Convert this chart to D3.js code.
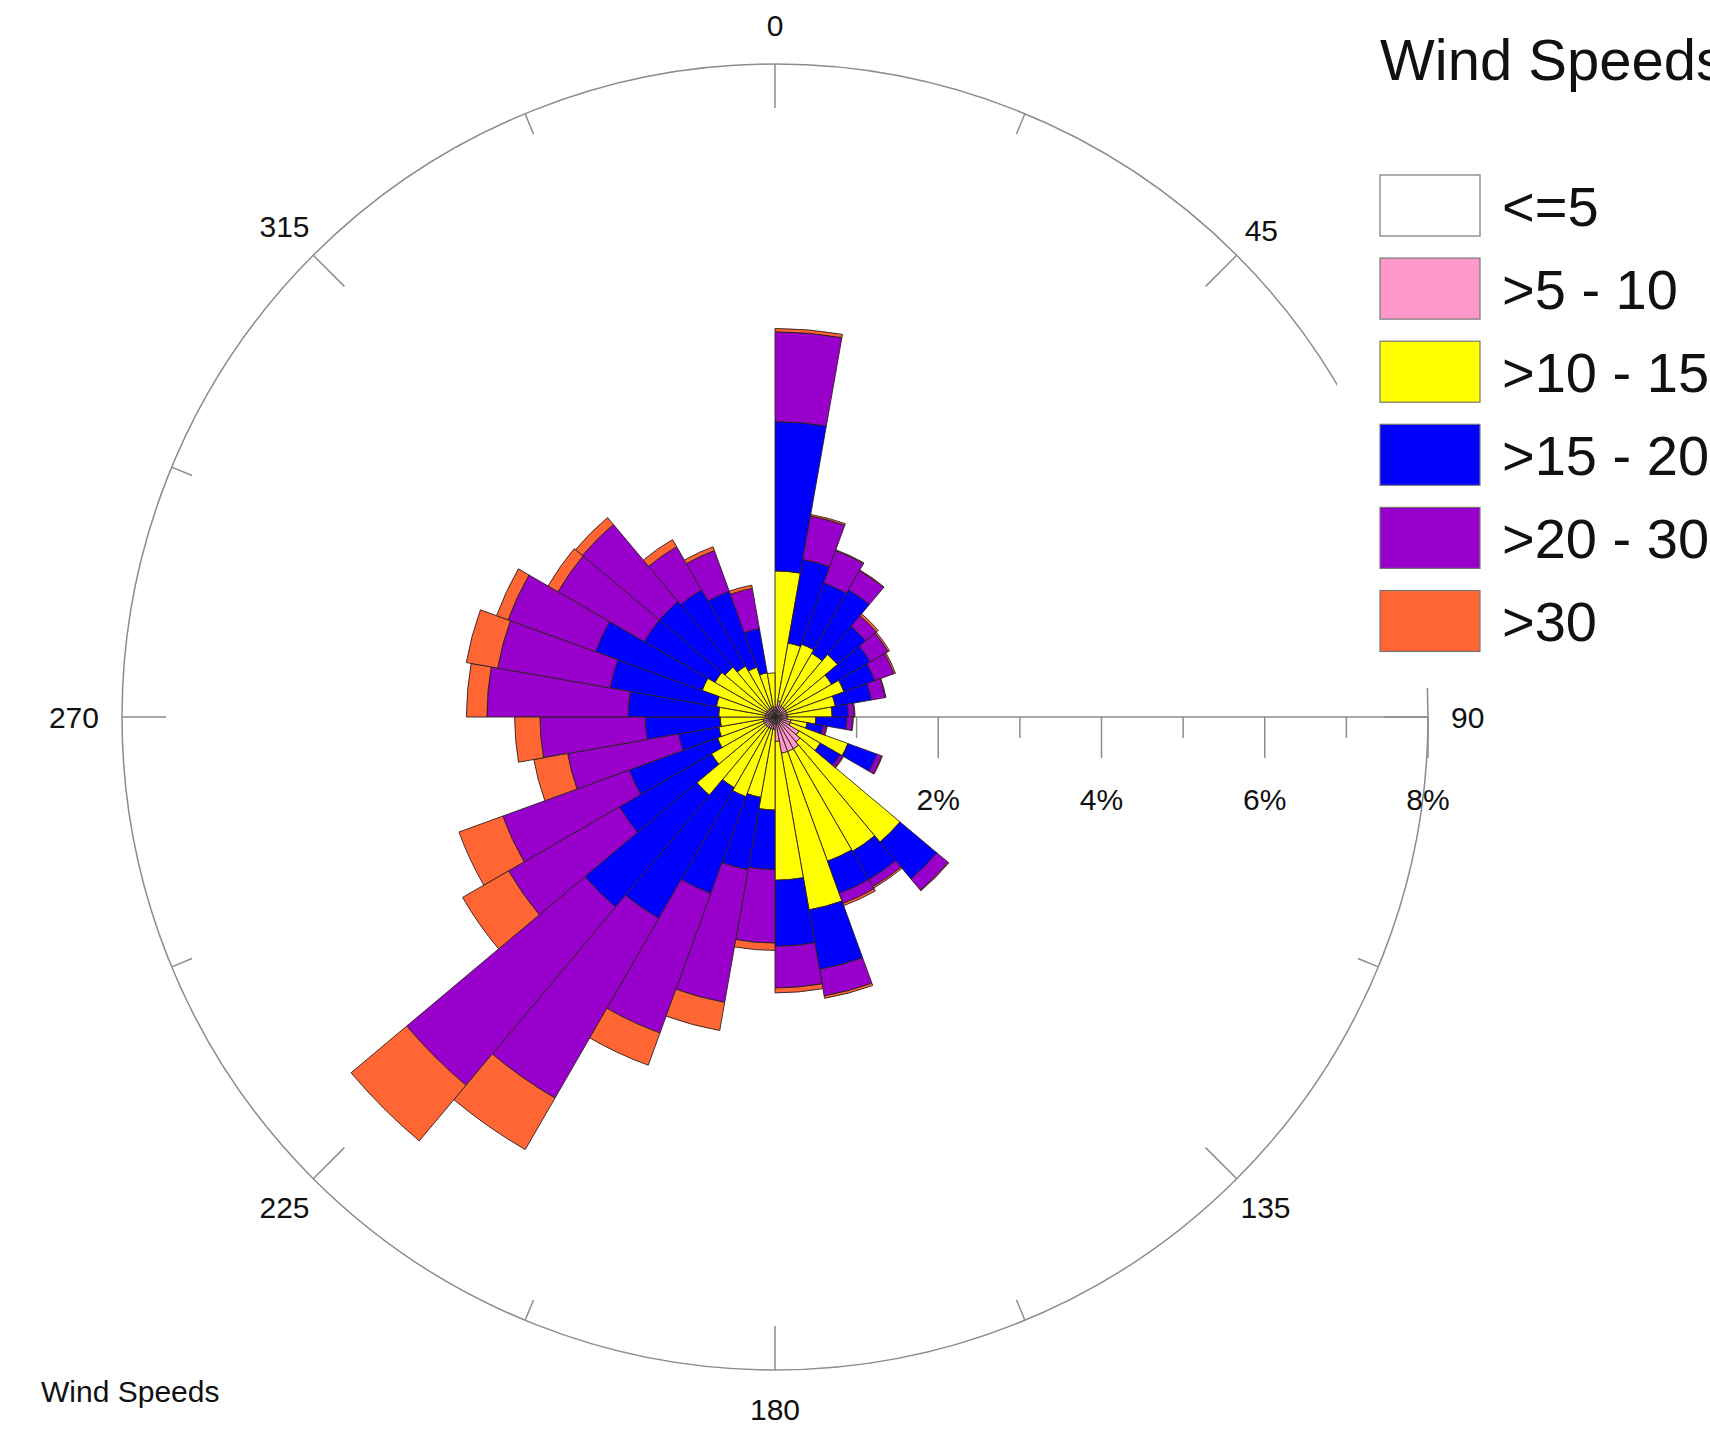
<!DOCTYPE html>
<html>
<head>
<meta charset="utf-8">
<script src="https://cdn.jsdelivr.net/npm/d3@7"></script>
<style>
  body { margin: 0; background: #fff; }
  text { font-family: "Liberation Sans", Arial, sans-serif; fill: #111; }
</style>
</head>
<body>
<div id="chart"></div>
<script>
// Wind direction bins (degrees, start of each 10 degree sector)
const directions = d3.range(0, 360, 10);

const speedBands = ["<=5", ">5 - 10", ">10 - 15", ">15 - 20", ">20 - 30", ">30"];
const bandColors = ["#ffffff", "#ff99cc", "#ffff00", "#0000ff", "#9900cc", "#ff6633"];

// percent of time in each band, one value per sector
const calm      = [0.08,0.08,0.08,0.08,0.08,0.08,0.08,0.08,0.08,0.08,0.08,0.08,0.08,0.08,0.08,0.08,0.08,0.08,
                   0.08,0.08,0.08,0.08,0.08,0.08,0.08,0.08,0.08,0.08,0.08,0.08,0.08,0.08,0.08,0.08,0.08,0.08];
const speed5_10 = [0.04,0.12,0.07,0.07,0.07,0.07,0.07,0.07,0.07,0.07,0.12,0.12,0.26,0.32,0.37,0.37,0.37,0.22,
                   0.07,0.07,0.07,0.07,0.07,0.07,0.07,0.07,0.04,0.04,0.04,0.04,0.04,0.04,0.04,0.04,0.04,0.04];
const speed10_15 = [1.67,0.72,0.80,0.75,0.85,0.65,0.75,0.60,0.55,0.35,0.20,0.75,0.30,1.60,1.45,1.43,1.95,1.70,
                    0.99,0.85,0.89,0.85,1.10,0.75,0.60,0.55,0.55,0.57,0.61,0.83,0.73,0.68,0.60,0.53,0.43,0.42];
const speed15_20 = [1.83,1.04,0.80,0.90,0.45,0.55,0.40,0.45,0.20,0.38,0.20,0.38,0.28,0.59,0.40,0.42,0.74,0.81,
                    0.73,0.90,1.26,1.85,1.79,1.30,1.15,0.50,0.92,1.11,1.32,1.39,1.00,1.05,1.08,0.99,0.55,0.00];
const speed20_30 = [1.10,0.54,0.42,0.27,0.17,0.25,0.25,0.17,0.07,0.07,0.04,0.06,0.04,0.18,0.10,0.13,0.33,0.51,
                    0.90,1.65,1.82,2.54,2.85,1.57,1.65,1.38,1.29,1.73,1.40,1.14,1.22,1.23,0.61,0.53,0.50,0.00];
const speedOver30 = [0.04,0.02,0.01,0.01,0.03,0.02,0.02,0.01,0.01,0.01,0.01,0.01,0.01,0.01,0.02,0.03,0.03,0.06,
                     0.09,0.35,0.42,0.73,0.89,0.65,0.57,0.42,0.31,0.25,0.39,0.15,0.14,0.11,0.10,0.05,0.04,0.00];

const angleTicks = d3.range(0, 360, 22.5);
const angleLabels = [0, 45, 90, 135, 180, 225, 270, 315];
const pctTicks = [1, 2, 3, 4, 5, 6, 7, 8];
const pctLabels = [2, 4, 6, 8];

const W = 1710, H = 1445;
const cx = 775, cy = 717, R = 653;

const svg = d3.select("#chart").append("svg")
  .attr("width", W)
  .attr("height", H);

const g = svg.append("g").attr("transform", `translate(${cx},${cy})`);

const rScale = d3.scaleLinear().domain([0, 8]).range([0, R]);
const rad = (deg) => deg * Math.PI / 180;

// outer circle
g.append("circle")
  .attr("r", R)
  .style("fill", "none")
  .style("stroke", "#8c8c8c")
  .style("stroke-width", 1.5);

// direction ticks on the circle
g.selectAll(".dirTick")
  .data(angleTicks)
  .enter().append("line")
  .attr("class", "dirTick")
  .attr("x1", (d) => R * Math.sin(rad(d)))
  .attr("y1", (d) => -R * Math.cos(rad(d)))
  .attr("x2", (d) => (R - (d % 45 === 0 ? 44 : 22)) * Math.sin(rad(d)))
  .attr("y2", (d) => -(R - (d % 45 === 0 ? 44 : 22)) * Math.cos(rad(d)))
  .style("stroke", "#8c8c8c")
  .style("stroke-width", 1.5);

// radial percent axis along 90 degrees
g.append("line")
  .attr("x1", 0).attr("y1", 0)
  .attr("x2", rScale(8)).attr("y2", 0)
  .style("stroke", "#8c8c8c")
  .style("stroke-width", 1.5);

g.selectAll(".pctTick")
  .data(pctTicks)
  .enter().append("line")
  .attr("class", "pctTick")
  .attr("x1", (d) => rScale(d)).attr("y1", 0)
  .attr("x2", (d) => rScale(d)).attr("y2", (d) => d % 2 === 0 ? 41 : 21)
  .style("stroke", "#8c8c8c")
  .style("stroke-width", 1.5);

g.selectAll(".pctLabel")
  .data(pctLabels)
  .enter().append("text")
  .attr("x", (d) => rScale(d))
  .attr("y", 82)
  .attr("text-anchor", "middle")
  .attr("dominant-baseline", "central")
  .style("font-size", "30px")
  .text((d) => d + "%");

// stacked sectors
const table = directions.map((dir, i) => ({
  dir: dir,
  "<=5": calm[i],
  ">5 - 10": speed5_10[i],
  ">10 - 15": speed10_15[i],
  ">15 - 20": speed15_20[i],
  ">20 - 30": speed20_30[i],
  ">30": speedOver30[i]
}));

const stacked = d3.stack().keys(speedBands)(table);

const arc = d3.arc()
  .innerRadius((d) => rScale(d[0]))
  .outerRadius((d) => rScale(d[1]))
  .startAngle((d) => rad(d.data.dir))
  .endAngle((d) => rad(d.data.dir + 10));

const bands = g.selectAll(".band")
  .data(stacked)
  .enter().append("g")
  .attr("class", "band")
  .style("fill", (d, i) => bandColors[i]);

bands.selectAll("path")
  .data((d) => d.filter((s) => s[1] > s[0]))
  .enter().append("path")
  .attr("d", arc)
  .style("stroke", "#2e2020")
  .style("stroke-width", 0.9);

// direction labels
angleLabels.forEach((a) => {
  const t = g.append("text")
    .attr("text-anchor", "middle")
    .attr("dominant-baseline", "central")
    .style("font-size", "30px")
    .text(a);
  const hw = t.node().getComputedTextLength() / 2;
  const s = Math.abs(Math.sin(rad(a))), c = Math.abs(Math.cos(rad(a)));
  const r = 676 + Math.max(hw * s, 16 * c);
  t.attr("x", r * Math.sin(rad(a)))
   .attr("y", -r * Math.cos(rad(a)));
});

// legend (white backing hides part of the circle)
svg.append("rect")
  .attr("x", 1337).attr("y", 0)
  .attr("width", W - 1337).attr("height", 688)
  .style("fill", "#fff");

svg.append("text")
  .attr("x", 1380)
  .attr("y", 80)
  .style("font-size", "58px")
  .text("Wind Speeds");

const legend = svg.selectAll(".legendItem")
  .data(speedBands)
  .enter().append("g")
  .attr("class", "legendItem")
  .attr("transform", (d, i) => `translate(1380, ${175 + i * 83.1})`);

legend.append("rect")
  .attr("width", 100)
  .attr("height", 61)
  .style("fill", (d, i) => bandColors[i])
  .style("stroke", "#777")
  .style("stroke-width", 1.2);

legend.append("text")
  .attr("x", 122)
  .attr("y", 31)
  .attr("dominant-baseline", "central")
  .style("font-size", "56px")
  .text((d) => d);

// footer label
svg.append("text")
  .attr("x", 41)
  .attr("y", 1402)
  .style("font-size", "30px")
  .text("Wind Speeds");
</script>
</body>
</html>
